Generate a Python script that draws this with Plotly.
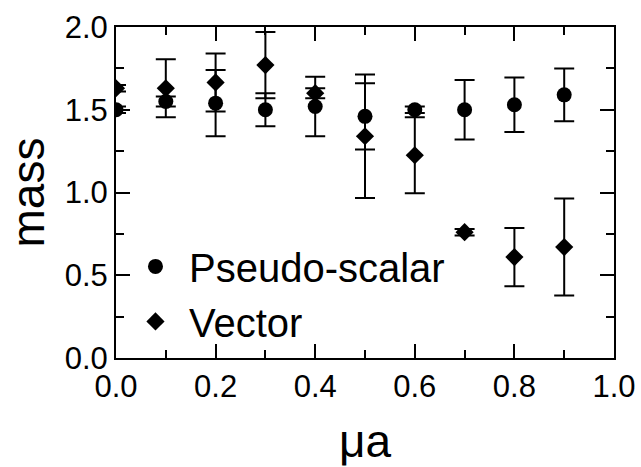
import plotly.graph_objects as go

mu_a = [0.0, 0.1, 0.2, 0.3, 0.4, 0.5, 0.6, 0.7, 0.8, 0.9]

ps_mass = [1.50, 1.55, 1.54, 1.50, 1.52, 1.46, 1.50, 1.50, 1.53, 1.59]
ps_err = [0.02, 0.03, 0.20, 0.10, 0.18, 0.20, 0.02, 0.18, 0.165, 0.16]

vec_mass = [1.63, 1.63, 1.665, 1.77, 1.60, 1.34, 1.225, 0.76, 0.61, 0.67]
vec_err = [0.02, 0.175, 0.175, 0.20, 0.03, 0.373, 0.23, 0.02, 0.176, 0.293]

FONT = "Liberation Sans, Arial, Helvetica, sans-serif"

fig = go.Figure()
fig.add_trace(go.Scatter(
    x=mu_a, y=ps_mass, mode="markers", name="Pseudo-scalar",
    marker=dict(symbol="circle", size=15, color="black"),
    error_y=dict(type="data", array=ps_err, visible=True, color="black", thickness=2, width=10),
))
fig.add_trace(go.Scatter(
    x=mu_a, y=vec_mass, mode="markers", name="Vector",
    marker=dict(symbol="diamond", size=14, color="black"),
    error_y=dict(type="data", array=vec_err, visible=True, color="black", thickness=2, width=10),
))

axis_common = dict(
    showline=True, linecolor="black", linewidth=2, mirror="allticks",
    ticks="inside", tickcolor="black", tickwidth=2, ticklen=14,
    showgrid=False, zeroline=False, automargin=False,
    tickfont=dict(family=FONT, size=31, color="black"),
)

fig.update_xaxes(
    range=[0, 1.0], dtick=0.2, tick0=0, tickformat=".1f",
    minor=dict(ticks="inside", dtick=0.1, ticklen=8, tickwidth=2, tickcolor="black", showgrid=False),
    title=dict(text="μa", font=dict(family=FONT, size=46, color="black"), standoff=28),
    **axis_common,
)
fig.update_yaxes(
    range=[0, 2.0], dtick=0.5, tick0=0, tickformat=".1f",
    minor=dict(ticks="inside", dtick=0.25, ticklen=8, tickwidth=2, tickcolor="black", showgrid=False),
    title=dict(text="mass", font=dict(family=FONT, size=46, color="black"), standoff=6),
    **axis_common,
)

fig.update_layout(
    width=641, height=467,
    margin=dict(l=116, r=27, t=27, b=109),
    plot_bgcolor="white", paper_bgcolor="white",
    showlegend=True,
    legend=dict(
        x=0.012, y=0.375, xanchor="left", yanchor="top",
        bgcolor="rgba(0,0,0,0)",
        font=dict(family=FONT, size=40, color="black"),
        tracegroupgap=0, itemwidth=57,
    ),
)

fig.write_html("out.html")
